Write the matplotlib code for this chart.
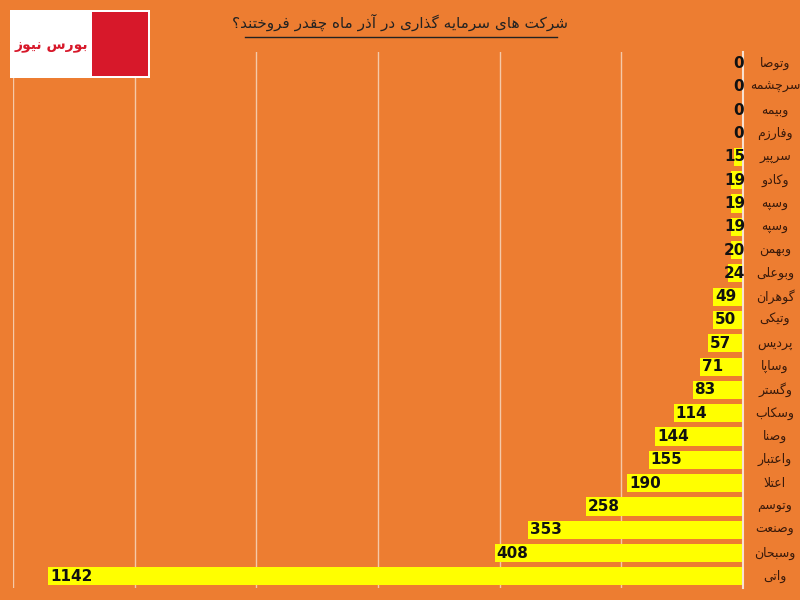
import matplotlib
matplotlib.use("Agg")
import matplotlib.pyplot as plt
from matplotlib.patches import Rectangle
from matplotlib.transforms import blended_transform_factory

companies = ["وتوصا", "سرچشمه", "وبیمه", "وفارزم", "سرپیر", "وکادو", "وسپه", "وسپه", "وبهمن",
             "وبوعلی", "گوهران", "وتیکی", "پردیس", "وساپا", "وگستر", "وسکاب", "وصنا",
             "واعتبار", "اعتلا", "وتوسم", "وصنعت", "وسبحان", "واتی"]
values = [0, 0, 0, 0, 15, 19, 19, 19, 20, 24, 49, 50, 57, 71, 83, 114, 144, 155, 190, 258, 353, 408, 1142]
title = "شرکت های سرمایه گذاری در آذر ماه چقدر فروختند؟"
logo_text = "بورس نیوز"

# --- minimal Persian shaping (presentation forms) ---
F = {
 'ا': (0xFE8D, 0xFE8E, None, None), 'آ': (0xFE81, 0xFE82, None, None),
 'ب': (0xFE8F, 0xFE90, 0xFE91, 0xFE92), 'پ': (0xFB56, 0xFB57, 0xFB58, 0xFB59),
 'ت': (0xFE95, 0xFE96, 0xFE97, 0xFE98), 'ث': (0xFE99, 0xFE9A, 0xFE9B, 0xFE9C),
 'ج': (0xFE9D, 0xFE9E, 0xFE9F, 0xFEA0), 'چ': (0xFB7A, 0xFB7B, 0xFB7C, 0xFB7D),
 'ح': (0xFEA1, 0xFEA2, 0xFEA3, 0xFEA4), 'خ': (0xFEA5, 0xFEA6, 0xFEA7, 0xFEA8),
 'د': (0xFEA9, 0xFEAA, None, None), 'ذ': (0xFEAB, 0xFEAC, None, None),
 'ر': (0xFEAD, 0xFEAE, None, None), 'ز': (0xFEAF, 0xFEB0, None, None),
 'ژ': (0xFB8A, 0xFB8B, None, None), 'و': (0xFEED, 0xFEEE, None, None),
 'س': (0xFEB1, 0xFEB2, 0xFEB3, 0xFEB4), 'ش': (0xFEB5, 0xFEB6, 0xFEB7, 0xFEB8),
 'ص': (0xFEB9, 0xFEBA, 0xFEBB, 0xFEBC), 'ض': (0xFEBD, 0xFEBE, 0xFEBF, 0xFEC0),
 'ط': (0xFEC1, 0xFEC2, 0xFEC3, 0xFEC4), 'ظ': (0xFEC5, 0xFEC6, 0xFEC7, 0xFEC8),
 'ع': (0xFEC9, 0xFECA, 0xFECB, 0xFECC), 'غ': (0xFECD, 0xFECE, 0xFECF, 0xFED0),
 'ف': (0xFED1, 0xFED2, 0xFED3, 0xFED4), 'ق': (0xFED5, 0xFED6, 0xFED7, 0xFED8),
 'ک': (0xFB8E, 0xFB8F, 0xFB90, 0xFB91), 'گ': (0xFB92, 0xFB93, 0xFB94, 0xFB95),
 'ل': (0xFEDD, 0xFEDE, 0xFEDF, 0xFEE0), 'م': (0xFEE1, 0xFEE2, 0xFEE3, 0xFEE4),
 'ن': (0xFEE5, 0xFEE6, 0xFEE7, 0xFEE8), 'ه': (0xFEE9, 0xFEEA, 0xFEEB, 0xFEEC),
 'ی': (0xFBFC, 0xFBFD, 0xFBFE, 0xFBFF),
}

def shape_word(w):
    chars = list(w)
    out = []
    i = 0
    n = len(chars)
    def joins_next(c):
        return c in F and F[c][2] is not None
    while i < n:
        c = chars[i]
        if c not in F:
            out.append('؟' if c == '?' else c); i += 1; continue
        prev = chars[i-1] if i > 0 else None
        pj = prev is not None and joins_next(prev)
        if c == 'ل' and i + 1 < n and chars[i+1] == 'ا':
            out.append(chr(0xFEFC if pj else 0xFEFB)); i += 2; continue
        nxt = chars[i+1] if i + 1 < n else None
        nj = joins_next(c) and nxt in F
        iso, fin, ini, med = F[c]
        if pj and nj: g = med
        elif pj: g = fin
        elif nj: g = ini
        else: g = iso
        out.append(chr(g)); i += 1
    return ''.join(out)

def fa(s):
    words = s.split(' ')
    shaped = ' '.join(shape_word(w) for w in words)
    return shaped[::-1]

fig = plt.figure(figsize=(8, 6), dpi=100)
fig.patch.set_facecolor('#ED7D31')
ax = fig.add_axes([13/800, 12/600, 730/800, 536/600])
ax.set_facecolor('#ED7D31')

ys = list(range(len(values)))
ax.barh(ys, values, height=0.78, color='#FFFF00', zorder=2)
ax.set_xlim(1200, 0)
ax.set_ylim(len(values) - 0.5, -0.5)
ax.set_xticks([0, 200, 400, 600, 800, 1000, 1200])
ax.grid(axis='x', color='#F5C9A8', linewidth=1, zorder=0)
ax.tick_params(left=False, bottom=False, labelbottom=False, labelleft=False)
for s in ['top', 'bottom', 'left']:
    ax.spines[s].set_visible(False)
ax.spines['right'].set_color('#F8E0D0')
ax.spines['right'].set_linewidth(1.5)

tr = blended_transform_factory(fig.transFigure, ax.transData)
for y, v, name in zip(ys, values, companies):
    nd = len(str(v))
    x = max(v - 3, nd * 14.5 + 2)
    ax.text(x, y, str(v), ha='left', va='center', fontsize=11, fontweight='bold',
            color='#111111', zorder=3)
    ax.text(775/800, y, fa(name), ha='center', va='center', fontsize=9,
            color='#3A1A0A', fontfamily='DejaVu Sans', transform=tr)

fig.text(400/800, 1 - 22/600, fa(title), ha='center', va='center', fontsize=11,
         color='#222222', fontfamily='DejaVu Sans')
fig.add_artist(plt.Line2D([245/800, 557/800], [1 - 37/600, 1 - 37/600], color='#222222', lw=1))

# logo
fig.add_artist(Rectangle((10/800, 1 - 78/600), 140/800, 68/600, facecolor='white', edgecolor='none'))
fig.add_artist(Rectangle((92/800, 1 - 76/600), 56/800, 64/600, facecolor='#D7182A', edgecolor='none'))
fig.text(51/800, 1 - 46/600, fa(logo_text), ha='center', va='center', fontsize=10,
         fontweight='bold', color='#D7182A', fontfamily='DejaVu Sans')

fig.savefig('out.png', dpi=100, facecolor=fig.get_facecolor())
